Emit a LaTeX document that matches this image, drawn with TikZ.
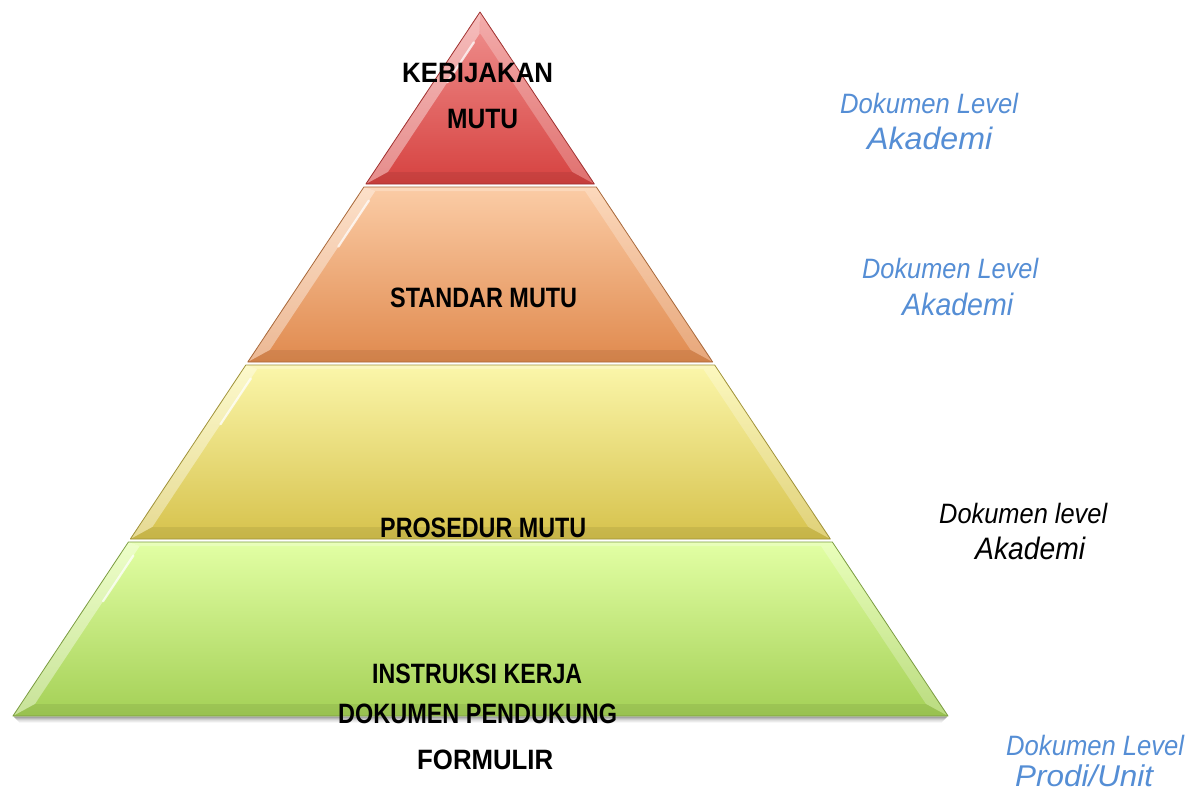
\documentclass[tikz,border=0pt]{standalone}
\usepackage{fontspec}
\setmainfont{Liberation Sans}
\usetikzlibrary{calc}
\definecolor{redT}{RGB}{240,146,144}
\definecolor{redB}{RGB}{214,66,64}
\definecolor{oraT}{RGB}{251,204,166}
\definecolor{oraB}{RGB}{224,138,78}
\definecolor{yelT}{RGB}{251,246,170}
\definecolor{yelB}{RGB}{214,194,76}
\definecolor{grnT}{RGB}{226,255,164}
\definecolor{grnB}{RGB}{164,208,86}
\definecolor{lvlblue}{RGB}{85,142,213}
\newcommand\bandshape[6]{%
 \coordinate (#5-tl) at ({480-0.6634*(#1-12)},#1);
 \coordinate (#5-tr) at ({480+0.6648*(#1-12)},#1);
 \coordinate (#5-bl) at ({480-0.6634*(#2-12)},#2);
 \coordinate (#5-br) at ({480+0.6648*(#2-12)},#2);
 \coordinate (#5-itl) at ({480-0.6634*(#6-12)+14},#6);
 \coordinate (#5-itr) at ({480+0.6648*(#6-12)-14},#6);
 \coordinate (#5-ibl) at ({480-0.6634*(#2-24)+14},{#2-12});
 \coordinate (#5-ibr) at ({480+0.6648*(#2-24)-14},{#2-12});
 \shade[top color=#3,bottom color=#4] (#5-tl)--(#5-tr)--(#5-br)--(#5-bl)--cycle;
 \fill[white,opacity=.4] (#5-tl)--(#5-bl)--(#5-ibl)--(#5-itl)--cycle;
 \fill[white,opacity=.25] (#5-tr)--(#5-br)--(#5-ibr)--(#5-itr)--cycle;
 \fill[white,opacity=.25] (#5-tl)--(#5-tr)--(#5-itr)--(#5-itl)--cycle;
 \fill[black,opacity=.07] (#5-bl)--(#5-br)--(#5-ibr)--(#5-ibl)--cycle;
 \draw[white,opacity=.75,line width=2.2,line cap=round] ($(#5-itl)!.06!(#5-ibl)$) -- ($(#5-itl)!.35!(#5-ibl)$);
 \draw[#4!75!black,line width=.8,line join=round] (#5-tl)--(#5-tr)--(#5-br)--(#5-bl)--cycle;
}
\tikzset{
 lbl/.style={anchor=base west,inner sep=0pt,font=\fontsize{28}{30}\selectfont\bfseries},
 lvl/.style={anchor=base west,inner sep=0pt,text=lvlblue,font=\fontsize{28}{30}\selectfont\itshape},
 lvlbig/.style={lvl,font=\fontsize{31}{33}\selectfont\itshape},
}
\begin{document}
\begin{tikzpicture}[x=1pt,y=-1pt]
\useasboundingbox (0,0) rectangle (1203,793);
\fill[white] (0,0) rectangle (1203,793);
% shadow under pyramid
\foreach \i/\o in {1/.22,2/.17,3/.12,4/.08,5/.05,6/.03}{
 \draw[black,opacity=\o,line width=1.2] ({13+\i},{716+\i}) -- ({948-\i},{716+\i});
}
\bandshape{542}{716}{grnT}{grnB}{g}{546}
\bandshape{365}{539}{yelT}{yelB}{y}{369}
\bandshape{187}{362}{oraT}{oraB}{o}{191}
\bandshape{12}{184}{redT}{redB}{r}{34}
% labels inside pyramid
\node[lbl] (kebijakan) at (402,82) {\resizebox{151pt}{\height}{KEBIJAKAN}};
\node[lbl] (mutu1) at (447,128) {\resizebox{71pt}{\height}{MUTU}};
\node[lbl] (standar) at (390,307) {\resizebox{187pt}{\height}{STANDAR MUTU}};
\node[lbl] (prosedur) at (380,537) {\resizebox{206pt}{\height}{PROSEDUR MUTU}};
\node[lbl] (instruksi) at (372,683) {\resizebox{210pt}{\height}{INSTRUKSI KERJA}};
\node[lbl] (dokumen) at (338,723) {\resizebox{279pt}{\height}{DOKUMEN PENDUKUNG}};
\node[lbl] (formulir) at (417,769) {\resizebox{136pt}{\height}{FORMULIR}};
% level labels
\node[lvl] (l1a) at (840,113) {\resizebox{178pt}{\height}{Dokumen Level}};
\node[lvlbig] (l1b) at (867,149) {\resizebox{125pt}{\height}{Akademi}};
\node[lvl] (l2a) at (862,278) {\resizebox{176pt}{\height}{Dokumen Level}};
\node[lvlbig] (l2b) at (902,315) {\resizebox{111pt}{\height}{Akademi}};
\node[lvl,text=black] (l3a) at (939,523) {\resizebox{168pt}{\height}{Dokumen level}};
\node[lvlbig,text=black] (l3b) at (975,559) {\resizebox{110pt}{\height}{Akademi}};
\node[lvl] (l4a) at (1006,755) {\resizebox{178pt}{\height}{Dokumen Level}};
\node[lvlbig,font=\fontsize{30}{32}\selectfont\itshape] (l4b) at (1015,786) {\resizebox{138pt}{\height}{Prodi/Unit}};
\end{tikzpicture}
\end{document}
